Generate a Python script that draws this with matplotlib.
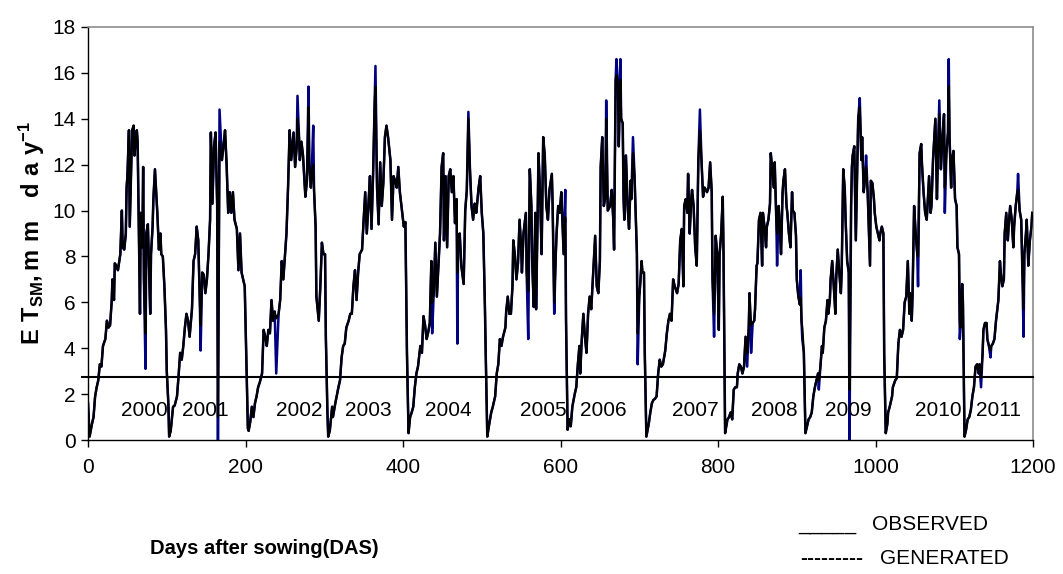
import matplotlib
matplotlib.use('Agg')
import matplotlib.pyplot as plt
from matplotlib import font_manager

# observed ET (days after sowing, mm/day), one list per season
season_2000 = [(0, 1.6), (2, 0.15), (5, 0.7), (7, 1.0), (9, 1.9), (11, 2.3), (13, 2.6), (15, 3.3), (17, 3.2),
               (19, 4.1), (22, 4.4), (24, 5.2), (26, 4.9), (28, 5.0), (30, 6.0), (31, 7.0), (33, 6.1), (34, 7.7),
               (36, 7.6), (38, 7.4), (41, 8.1), (43, 10.0), (44, 8.4), (46, 8.3), (48, 9.0), (49, 11.0), (50, 11.5),
               (52, 13.5), (53, 9.3), (55, 12.2), (56, 13.5), (58, 13.7), (59, 12.4), (60, 12.8), (62, 13.5),
               (63, 13.0), (65, 8.1), (66, 5.5), (67, 9.9), (69, 8.4), (70, 11.9), (71, 7.0), (73, 4.65), (74, 9.0),
               (76, 9.4), (77, 8.1), (79, 5.5), (80, 8.1), (82, 9.3), (83, 10.5), (85, 11.8), (87, 10.5), (88, 9.9),
               (90, 8.3), (92, 9.0), (93, 8.1), (95, 8.0), (97, 6.7), (99, 4.8), (100, 3.0), (102, 1.6), (103, 0.15)]
season_2001 = [(105, 0.4), (108, 1.45), (110, 1.5), (113, 1.9), (115, 2.8), (117, 3.8), (119, 3.5), (121, 4.1),
               (123, 4.9), (125, 5.5), (127, 5.2), (129, 4.5), (132, 5.7), (134, 7.8), (136, 8.1), (138, 9.3),
               (140, 8.7), (142, 6.0), (143, 5.0), (145, 7.3), (147, 7.2), (149, 6.4), (151, 7.0), (153, 8.1),
               (155, 9.6), (156, 13.4), (158, 10.3), (160, 12.8), (162, 13.4), (164, 10.2), (165, 1.0), (167, 13.0),
               (170, 12.2), (172, 12.8), (174, 13.5), (176, 12.0), (178, 9.9), (180, 10.8), (182, 9.9), (184, 10.8),
               (186, 9.6), (189, 9.2), (191, 7.4), (193, 9.0), (195, 7.3), (197, 7.0), (199, 6.7), (201, 3.5),
               (203, 0.5)]
season_2002 = [(204, 0.4), (206, 0.8), (208, 1.45), (210, 1.0), (212, 1.6), (214, 1.9), (216, 2.3), (218, 2.5),
               (221, 2.9), (223, 4.8), (225, 4.5), (227, 4.1), (229, 4.8), (231, 4.65), (233, 6.1), (235, 5.2),
               (237, 5.6), (239, 5.3), (242, 5.5), (244, 6.1), (246, 7.8), (248, 7.0), (250, 8.0), (252, 9.0),
               (254, 11.0), (255, 12.2), (256, 13.5), (258, 12.2), (261, 13.4), (263, 11.9), (265, 12.8), (266, 14.0),
               (268, 13.2), (269, 12.2), (271, 13.0), (273, 12.4), (276, 10.6), (278, 11.3), (280, 14.5), (281, 12.0),
               (283, 11.0), (284, 11.6), (286, 12.0), (287, 10.9), (289, 9.3), (290, 6.25), (293, 5.2), (295, 6.7),
               (297, 8.6), (299, 8.1), (301, 8.1), (302, 4.5), (304, 1.2), (305, 0.15)]
season_2003 = [(307, 0.4), (310, 1.45), (311, 1.0), (314, 1.6), (318, 2.3), (320, 2.6), (322, 3.6), (324, 4.1),
               (326, 4.2), (328, 4.9), (331, 5.2), (333, 5.5), (335, 5.5), (337, 6.7), (339, 7.4), (341, 6.1),
               (343, 7.3), (345, 8.1), (348, 8.3), (350, 9.6), (352, 10.8), (354, 9.0), (356, 10.2), (358, 11.5),
               (360, 9.2), (362, 11.6), (364, 14.7), (365, 15.4), (367, 11.0), (369, 9.4), (371, 12.1), (373, 10.2),
               (375, 11.2), (377, 13.2), (379, 13.7), (381, 13.2), (384, 12.2), (386, 9.6), (388, 11.5), (390, 11.3),
               (392, 11.0), (394, 11.9), (396, 10.8), (398, 10.2), (401, 9.3), (403, 9.5), (405, 3.8), (407, 0.3)]
season_2004 = [(409, 1.0), (411, 1.2), (413, 1.45), (415, 2.3), (417, 2.9), (419, 3.2), (422, 4.1), (424, 3.8),
               (426, 5.4), (428, 5.0), (430, 4.4), (432, 4.7), (434, 5.1), (436, 7.8), (437, 6.0), (439, 6.4),
               (441, 8.6), (443, 6.25), (445, 7.6), (447, 9.0), (449, 11.9), (451, 12.5), (452, 8.7), (454, 11.5),
               (456, 8.4), (458, 11.5), (460, 11.8), (462, 10.8), (464, 11.5), (466, 9.45), (468, 10.5), (469, 7.3),
               (470, 8.9), (472, 9.0), (474, 7.6), (477, 6.8), (479, 10.0), (481, 10.9), (483, 14.0), (485, 11.8),
               (487, 10.2), (489, 9.6), (491, 10.3), (493, 9.9), (496, 11.0), (498, 11.5), (500, 9.9), (502, 9.0),
               (504, 5.8), (505, 3.8), (507, 0.15)]
season_2005 = [(509, 0.6), (512, 1.2), (514, 1.45), (517, 1.9), (519, 2.9), (521, 3.3), (523, 4.4), (525, 4.1),
               (527, 4.5), (530, 4.9), (531, 5.6), (533, 6.25), (535, 5.5), (537, 5.5), (539, 6.7), (540, 8.7),
               (542, 8.1), (544, 7.0), (546, 7.7), (548, 9.6), (550, 8.4), (551, 7.3), (553, 9.0), (556, 9.9),
               (557, 7.3), (559, 6.5), (561, 11.8), (563, 10.2), (564, 7.8), (566, 5.8), (568, 9.9), (569, 5.7),
               (571, 9.9), (572, 12.5), (574, 10.8), (576, 8.1), (578, 13.2), (580, 12.4), (582, 10.2), (584, 9.6),
               (586, 10.9), (589, 11.6), (590, 10.2), (592, 6.0), (594, 8.1), (595, 9.0), (597, 10.2), (599, 9.9),
               (601, 10.8), (604, 8.1), (606, 9.7), (607, 5.2), (609, 0.45)]
season_2006 = [(611, 0.9), (613, 0.6), (615, 1.45), (618, 2.0), (620, 2.3), (622, 3.3), (624, 4.1), (625, 2.9),
               (627, 4.4), (629, 5.5), (631, 4.5), (633, 3.8), (635, 5.5), (637, 6.25), (639, 5.7), (642, 7.6),
               (644, 8.9), (646, 6.7), (648, 6.4), (650, 7.8), (651, 11.9), (653, 13.2), (655, 10.2), (657, 10.6),
               (658, 14.0), (660, 10.0), (663, 10.2), (665, 10.9), (667, 9.6), (668, 8.3), (670, 15.7), (671, 15.9),
               (673, 15.4), (674, 12.8), (676, 15.7), (677, 14.0), (679, 13.8), (680, 10.6), (681, 9.6), (683, 12.4),
               (684, 11.5), (685, 10.3), (687, 9.2), (689, 11.3), (690, 10.5), (692, 12.5), (694, 11.5), (697, 8.1),
               (698, 4.65), (700, 6.25), (701, 6.7), (703, 7.8), (704, 7.3), (706, 7.3), (707, 3.8), (709, 0.15)]
season_2007 = [(712, 0.7), (714, 1.2), (716, 1.6), (718, 1.75), (720, 1.8), (722, 1.9), (724, 2.9), (726, 3.5),
               (728, 3.2), (730, 3.3), (733, 3.9), (735, 4.65), (737, 5.2), (739, 5.5), (741, 5.2), (743, 7.0),
               (745, 6.7), (748, 6.4), (750, 6.8), (752, 8.7), (754, 9.2), (756, 6.7), (757, 10.2), (759, 10.5),
               (761, 9.9), (762, 11.6), (764, 9.0), (766, 10.5), (767, 10.9), (769, 10.2), (771, 8.4), (773, 7.6),
               (775, 12.2), (777, 13.5), (779, 12.2), (781, 10.6), (783, 11.0), (786, 10.8), (788, 11.0), (790, 12.1),
               (792, 10.8), (793, 7.0), (795, 5.5), (797, 8.9), (799, 8.1), (801, 4.8), (802, 8.1), (804, 9.0),
               (806, 10.6), (807, 8.1), (809, 0.3)]
season_2008 = [(812, 0.9), (814, 1.0), (816, 1.2), (818, 0.9), (820, 2.2), (822, 2.3), (824, 2.3), (825, 2.9),
               (827, 3.3), (829, 3.2), (831, 2.9), (833, 3.2), (835, 4.5), (837, 3.8), (839, 4.9), (840, 6.4),
               (842, 5.0), (844, 5.1), (846, 5.2), (847, 5.7), (849, 7.6), (850, 7.7), (852, 9.6), (854, 9.9),
               (856, 7.6), (857, 9.9), (859, 9.3), (861, 8.4), (862, 9.3), (864, 9.6), (866, 10.3), (867, 12.5),
               (869, 11.7), (871, 11.0), (872, 12.1), (874, 9.6), (875, 9.0), (877, 10.2), (878, 9.6), (880, 8.1),
               (882, 10.8), (883, 11.3), (885, 11.8), (887, 10.2), (888, 9.9), (890, 9.0), (892, 8.4), (894, 10.8),
               (895, 10.0), (897, 9.9), (899, 8.9), (900, 7.0), (902, 6.25), (904, 5.9), (905, 6.2), (906, 5.2),
               (907, 4.9), (909, 3.8), (911, 0.3)]
season_2009 = [(913, 0.6), (915, 0.9), (917, 1.0), (919, 1.2), (921, 1.9), (923, 2.3), (925, 2.6), (927, 2.9),
               (928, 2.6), (930, 3.2), (932, 4.1), (933, 3.8), (935, 4.9), (937, 5.2), (939, 6.1), (940, 5.5),
               (942, 6.1), (943, 7.0), (945, 7.8), (947, 6.7), (949, 5.5), (950, 7.0), (952, 8.3), (954, 7.3),
               (956, 6.4), (957, 7.3), (959, 11.8), (961, 10.9), (962, 9.6), (964, 7.8), (966, 7.3), (967, 2.2),
               (969, 10.2), (970, 11.9), (971, 12.4), (973, 12.8), (975, 8.7), (977, 12.4), (978, 14.0), (980, 14.5),
               (982, 12.2), (983, 13.2), (985, 10.8), (987, 11.5), (988, 11.9), (990, 10.8), (993, 7.6), (994, 11.3),
               (996, 11.2), (998, 10.5), (999, 9.9), (1001, 9.3), (1003, 9.0), (1005, 8.7), (1006, 9.0), (1008, 9.3),
               (1010, 9.0), (1011, 3.8), (1013, 0.3)]
season_2010 = [(1015, 0.7), (1016, 1.2), (1018, 1.45), (1021, 1.9), (1022, 2.3), (1025, 2.6), (1027, 2.7),
               (1029, 4.2), (1031, 4.8), (1033, 4.5), (1035, 4.8), (1037, 6.0), (1039, 6.25), (1041, 7.8), (1043, 5.5),
               (1044, 6.4), (1046, 5.2), (1047, 6.3), (1049, 10.2), (1051, 9.0), (1053, 8.1), (1054, 8.0), (1056, 12.5),
               (1058, 12.9), (1059, 12.0), (1061, 10.8), (1063, 9.9), (1065, 9.6), (1066, 10.2), (1068, 11.5),
               (1070, 9.9), (1071, 10.2), (1073, 12.2), (1075, 13.4), (1076, 14.0), (1078, 10.5), (1079, 12.1),
               (1081, 14.2), (1083, 11.8), (1085, 13.2), (1087, 14.2), (1088, 11.0), (1090, 12.5), (1092, 13.4),
               (1093, 15.4), (1094, 13.2), (1096, 11.0), (1097, 12.2), (1099, 12.6), (1101, 10.5), (1103, 10.2),
               (1104, 8.4), (1106, 8.1), (1107, 5.2), (1108, 4.9), (1110, 6.8), (1111, 6.0), (1113, 0.15)]
season_2011 = [(1115, 0.45), (1117, 0.9), (1119, 1.0), (1121, 1.3), (1123, 1.9), (1125, 2.3), (1127, 3.2),
               (1129, 3.3), (1131, 2.9), (1132, 3.3), (1134, 2.8), (1136, 3.8), (1137, 4.8), (1139, 5.1), (1141, 5.1),
               (1142, 4.4), (1144, 4.1), (1146, 3.9), (1147, 4.1), (1149, 4.2), (1151, 4.4), (1153, 5.2), (1154, 5.5),
               (1156, 6.1), (1158, 7.8), (1159, 7.3), (1161, 6.7), (1163, 7.0), (1164, 9.0), (1166, 9.9), (1168, 8.7),
               (1169, 9.3), (1171, 10.2), (1173, 9.6), (1175, 8.4), (1176, 9.3), (1178, 10.2), (1180, 10.8),
               (1181, 10.9), (1183, 10.0), (1185, 9.6), (1186, 8.1), (1188, 5.7), (1189, 8.1), (1191, 9.0),
               (1192, 9.6), (1194, 7.6), (1196, 8.7), (1198, 9.3), (1199, 9.9)]

# days where the generated series departs from the observed one
gen_days = [73, 143, 165, 167, 239, 266, 280, 286, 365, 437, 469, 483, 559, 592, 606, 658, 671, 676, 692, 698,
            777, 795, 837, 842, 875, 905, 907, 928, 967, 980, 988, 1054, 1081, 1088, 1093, 1107, 1134, 1146,
            1181, 1188]
gen_vals = [3.1, 3.9, 0.0, 14.4, 2.9, 15.0, 15.4, 13.7, 16.3, 4.65, 4.2, 14.3, 4.4, 5.5, 10.9, 14.8, 16.6, 16.6,
            13.2, 3.3, 14.4, 4.5, 3.2, 3.8, 7.6, 7.4, 4.4, 2.2, 0.0, 14.9, 12.4, 6.7, 14.8, 9.9, 16.6, 4.4, 2.3,
            3.6, 11.6, 4.5]

years = ['2000', '2001', '2002', '2003', '2004', '2005', '2006', '2007', '2008', '2009', '2010', '2011']
year_das = [72, 149, 268, 356, 457, 578, 654, 771, 872, 966, 1080, 1156]
ref_level = 2.75

seasons = [season_2000, season_2001, season_2002, season_2003, season_2004, season_2005,
           season_2006, season_2007, season_2008, season_2009, season_2010, season_2011]
obs_pts = [p for s in seasons for p in s]
das = [p[0] for p in obs_pts]
observed = [p[1] for p in obs_pts]

gen = dict(zip(das, observed))
gen.update(zip(gen_days, gen_vals))
gen_das = sorted(gen)
generated = [gen[d] for d in gen_das]

names = {f.name for f in font_manager.fontManager.ttflist}
if 'Liberation Sans Narrow' in names:
    fam, fs = 'Liberation Sans Narrow', 18
else:
    fam, fs = 'Liberation Sans', 15
plt.rcParams['font.family'] = [fam, 'DejaVu Sans']
plt.rcParams['mathtext.fontset'] = 'custom'
plt.rcParams['mathtext.bf'] = 'Liberation Sans:bold'
plt.rcParams['mathtext.rm'] = 'Liberation Sans'

fig = plt.figure(figsize=(10.63, 5.74), dpi=100)
ax = fig.add_axes([0.0828, 0.2334, 0.889, 0.7196])

ax.plot(gen_das, generated, color='#000080', lw=1.8, zorder=2)
ax.plot(das, observed, color='black', lw=1.6, zorder=3)
ax.axhline(ref_level, xmin=-0.006, xmax=1.0, color='black', lw=1.5, clip_on=False, zorder=4)

for yr, d in zip(years, year_das):
    ax.text(d, 1.3, yr, ha='center', va='center', fontsize=fs, zorder=5)

ax.set_xlim(0, 1200)
ax.set_ylim(0, 18)
ax.set_xticks(range(0, 1201, 200))
ax.set_yticks(range(0, 19, 2))
ax.tick_params(axis='both', direction='out', length=5, width=1, labelsize=fs, colors='black')
ax.tick_params(axis='x', pad=8)
ax.tick_params(axis='y', pad=4)
for side in ['top', 'right']:
    ax.spines[side].set_color('#8c8c8c')
    ax.spines[side].set_linewidth(1.2)
for side in ['left', 'bottom']:
    ax.spines[side].set_color('black')
    ax.spines[side].set_linewidth(1.0)

ax.set_ylabel(r'$\mathbf{E\ T_{SM},m\ m\ \ \ d\ a\ y^{-1}}$', fontsize=17, labelpad=4)
fig.text(264 / 1063, 1 - 548 / 574, 'Days after sowing(DAS)', ha='center', va='center',
         fontsize=14.5, fontweight='bold', family='Liberation Sans')

fig.text(798 / 1063, 1 - 525 / 574, '_____', ha='left', va='center', fontsize=fs)
fig.text(872 / 1063, 1 - 525 / 574, 'OBSERVED', ha='left', va='center', fontsize=fs)
fig.text(800 / 1063, 1 - 558 / 574, '---------', ha='left', va='center', fontsize=fs, fontweight='bold')
fig.text(880 / 1063, 1 - 558 / 574, 'GENERATED', ha='left', va='center', fontsize=fs)

fig.savefig('out.png', dpi=100)
